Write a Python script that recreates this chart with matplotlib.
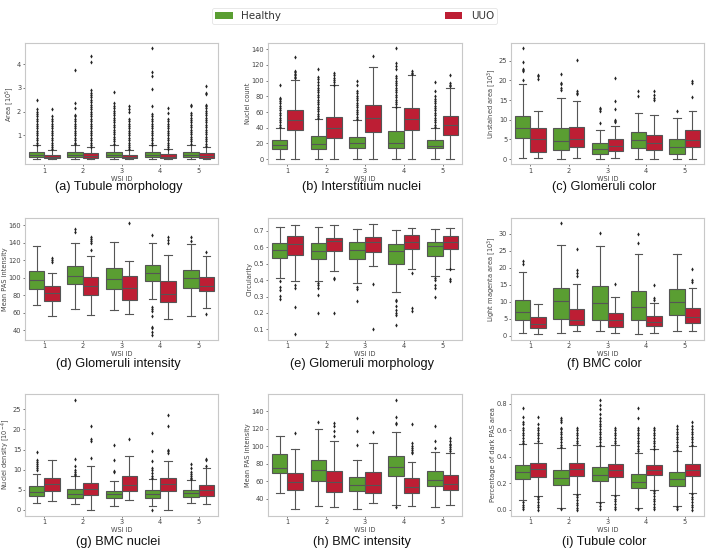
import matplotlib
matplotlib.use('Agg')
import matplotlib.pyplot as plt
from matplotlib.patches import Patch

wsi_ids = ['1', '2', '3', '4', '5']
groups = ['Healthy', 'UUO']
colors = ['#5a9e32', '#bd1e34']

# stats per WSI: (whislo, q1, median, q3, whishi)
# (a) Tubule morphology
a_healthy = [(0.0, 0.08, 0.17, 0.29, 0.58), (0.0, 0.08, 0.18, 0.30, 0.60), (0.0, 0.09, 0.19, 0.32, 0.62),
             (0.0, 0.08, 0.17, 0.29, 0.58), (0.0, 0.09, 0.18, 0.30, 0.62)]
a_healthy_fl = [
    [0.62, 0.7, 0.8, 0.9, 1.0, 1.1, 1.2, 1.3, 1.4, 1.5, 1.6, 1.7, 1.8, 1.9, 2.0, 2.1, 2.48],
    [0.63, 0.7, 0.8, 0.9, 1.0, 1.1, 1.2, 1.3, 1.4, 1.5, 1.6, 1.7, 1.8, 1.85, 2.15, 2.35, 3.77],
    [0.65, 0.75, 0.85, 0.95, 1.05, 1.15, 1.25, 1.35, 1.45, 1.55, 1.65, 1.75, 1.85, 1.95, 2.05, 2.15, 2.25, 2.35, 2.85],
    [0.6, 0.7, 0.8, 0.9, 1.0, 1.1, 1.2, 1.3, 1.4, 1.5, 1.6, 1.7, 1.8, 1.9, 2.25, 2.95, 3.5, 3.65, 4.68],
    [0.65, 0.75, 0.85, 0.95, 1.05, 1.15, 1.25, 1.35, 1.45, 1.55, 1.65, 1.75, 1.85, 1.95, 2.25, 2.3]]
a_uuo = [(0.0, 0.05, 0.11, 0.20, 0.41), (0.0, 0.06, 0.14, 0.25, 0.50), (0.0, 0.05, 0.10, 0.19, 0.41),
         (0.0, 0.05, 0.11, 0.22, 0.42), (0.0, 0.06, 0.14, 0.26, 0.52)]
a_uuo_fl = [
    [0.43, 0.5, 0.6, 0.7, 0.8, 0.9, 1.0, 1.1, 1.2, 1.3, 1.4, 1.5, 1.6, 1.7, 1.8, 2.1],
    [0.52, 0.6, 0.7, 0.8, 0.9, 1.0, 1.1, 1.2, 1.3, 1.4, 1.5, 1.6, 1.7, 1.8, 1.9, 2.0, 2.1, 2.2, 2.3, 2.4,
     2.5, 2.6, 2.7, 2.8, 2.9, 4.1, 4.35],
    [0.43, 0.5, 0.6, 0.7, 0.8, 0.9, 1.0, 1.1, 1.2, 1.3, 1.4, 1.5, 1.6, 1.7, 2.0, 2.1, 2.25],
    [0.44, 0.5, 0.6, 0.7, 0.8, 0.9, 1.0, 1.1, 1.2, 1.3, 1.4, 1.5, 1.6, 1.7, 1.95, 2.15],
    [0.55, 0.65, 0.75, 0.85, 0.95, 1.05, 1.15, 1.25, 1.35, 1.45, 1.55, 1.65, 1.75, 1.85, 1.95, 2.05, 2.15,
     2.25, 2.3, 2.75, 2.8, 3.1]]

# (b) Interstitium nuclei
b_healthy = [(0, 12.7, 18.2, 24.2, 40), (0, 13.2, 19, 29.3, 51), (0, 14, 20.8, 28.8, 50),
             (0, 14, 20, 35.6, 66), (0, 13.6, 17, 24, 40)]
b_healthy_fl = [
    [41, 44, 47, 50, 53, 56, 59, 62, 65, 68, 71, 74, 77, 78, 94],
    [52, 55, 58, 61, 64, 67, 70, 73, 76, 79, 82, 85, 88, 91, 94, 98, 102, 105, 115],
    [51, 54, 57, 60, 63, 66, 69, 72, 75, 78, 81, 84, 87, 95, 100],
    [67, 70, 73, 76, 79, 82, 85, 88, 91, 94, 97, 100, 103, 106, 115, 119, 122, 141],
    [41, 44, 47, 50, 53, 56, 59, 62, 65, 68, 71, 74, 77, 80, 87, 98]]
b_uuo = [(0, 36.9, 50.5, 62.8, 101), (0, 27.2, 40, 53.9, 94), (0, 35.2, 53, 68.7, 117.5),
         (0, 37.3, 51.3, 64.9, 107), (0, 31.4, 44, 55, 91)]
b_uuo_fl = [
    [103, 105, 107, 109, 111, 112, 130],
    [95, 98, 101, 104, 107, 110],
    [132],
    [108, 110, 112],
    [93, 95, 97, 107]]

# (c) Glomeruli color
c_healthy = [(0.2, 5.4, 7.8, 11.06, 19), (0.1, 2.3, 4.7, 7.8, 15.5), (0.0, 1.4, 2.5, 4.0, 7.5),
             (0.1, 2.9, 4.8, 7.0, 11.6), (0.1, 1.4, 3.0, 5.1, 10.4)]
c_healthy_fl = [[20, 22.3, 22.6, 23, 24.8, 28.2], [17.5, 18, 19, 19.3, 21.7], [9.3, 12.2, 12.7, 13.1],
                [16, 17.4], [12.2]]
c_uuo = [(0.2, 1.8, 5.1, 7.8, 12.3), (0.2, 3.0, 5.2, 8.1, 14.7), (0.3, 2.1, 3.3, 5.1, 8.5),
         (0.1, 2.3, 4.1, 6.2, 11.1), (0.1, 3.0, 4.8, 7.5, 12.3)]
c_uuo_fl = [[20.3, 21, 21.5], [16.6, 16.9, 17.3, 25.3], [9.4, 9.7, 10, 12.8, 14.8, 20.6],
            [15, 15.6, 16.2, 17.4], [15.8, 19.4, 19.8]]

# (d) Glomeruli intensity
d_healthy = [(68.5, 86.7, 97.3, 107.6, 136), (64, 92.4, 101.5, 113.7, 140), (63, 87.5, 98.5, 110.6, 140.5),
             (75.5, 95.8, 105.7, 114, 139.5), (56.5, 87.8, 99.6, 109, 138)]
d_healthy_fl = [[], [152, 156], [], [35, 38, 42, 44, 56, 62, 64, 66, 149], [142, 146]]
d_uuo = [(56, 73.8, 82, 90.5, 105), (57, 80.6, 90.5, 100.7, 125), (58.5, 74.9, 88.2, 101.9, 118.5),
         (52.5, 71.9, 81.4, 96.2, 125.5), (65, 84.4, 90, 100.7, 124.5)]
d_uuo_fl = [[118, 120, 122], [132, 140, 142, 144, 146], [162], [140, 143, 146], [59, 129]]

# (e) Glomeruli morphology
e_healthy = [(0.415, 0.534, 0.583, 0.623, 0.722), (0.397, 0.528, 0.577, 0.623, 0.72),
             (0.385, 0.528, 0.58, 0.631, 0.71), (0.326, 0.496, 0.575, 0.621, 0.702),
             (0.423, 0.546, 0.605, 0.631, 0.71)]
e_healthy_fl = [[0.397, 0.36, 0.338, 0.306, 0.286], [0.38, 0.37, 0.35, 0.31, 0.2], [0.355, 0.345, 0.275],
                [0.28, 0.27, 0.24, 0.22, 0.2, 0.19, 0.13], [0.415, 0.4, 0.37, 0.35, 0.3]]
e_uuo = [(0.397, 0.553, 0.619, 0.67, 0.736), (0.458, 0.577, 0.64, 0.656, 0.737),
         (0.484, 0.573, 0.633, 0.662, 0.742), (0.47, 0.587, 0.631, 0.674, 0.716),
         (0.47, 0.589, 0.631, 0.67, 0.715)]
e_uuo_fl = [[0.37, 0.35, 0.237, 0.075], [0.415, 0.405, 0.2], [0.375, 0.1], [0.44, 0.23, 0.21],
            [0.465, 0.405, 0.395]]

# (f) BMC color
f_healthy = [(0.7, 4.7, 7.06, 10.6, 18.8), (0.9, 4.9, 10.3, 14.0, 26.8), (1.4, 4.6, 9.8, 14.7, 26.6),
             (0.6, 4.7, 8.5, 13.1, 24.1), (1.3, 6.2, 10.0, 13.9, 24.1)]
f_healthy_fl = [[21.3, 21.9], [33.2], [30.4], [27.3, 30.1], []]
f_uuo = [(0.5, 2.45, 3.5, 5.4, 9.4), (1.4, 3.1, 4.8, 8.0, 15.3), (0.7, 2.7, 4.7, 6.7, 11.3),
         (0.9, 3.0, 4.2, 5.8, 9.7), (1.4, 3.7, 5.6, 8.2, 14.2)]
f_uuo_fl = [[], [17.5, 18.6, 19.3, 25.5], [15.3], [10.6, 11, 14.9], [16, 16.3, 19.6]]

# (g) BMC nuclei
g_healthy = [(1.8, 3.38, 4.54, 5.86, 8.9), (1.4, 2.9, 4.04, 5.2, 8.4), (1.0, 3.0, 3.9, 4.7, 7.2),
             (1.0, 2.9, 3.9, 4.95, 7.7), (1.6, 3.3, 4.1, 4.95, 7.4)]
g_healthy_fl = [[10, 10.5, 11, 11.5, 12, 12.3, 14.5], [8.6, 9, 9.5, 10, 11, 12.7, 27.4], [9.3, 9.6, 12.4, 16],
                [0, 7.9, 8.5, 9.2, 10, 10.5, 12.2, 14.6, 19], [7.6, 8, 8.5, 9, 9.5, 10.5, 11.3]]
g_uuo = [(2.3, 4.7, 6.44, 7.84, 12.4), (0.0, 3.7, 5.28, 6.6, 10.9), (2.5, 4.6, 6.3, 8.5, 13.4),
         (0.0, 4.6, 6.4, 7.9, 12.2), (1.5, 3.5, 5.0, 6.3, 10.4)]
g_uuo_fl = [[], [12.8, 17.2, 17.5, 20.8], [17.5], [14.2, 14.6, 15, 20.8, 23.6], [11, 12.3, 12.7]]

# (h) BMC intensity
h_healthy = [(46.8, 69.9, 75.6, 91.4, 112.3), (32.4, 60.8, 73.3, 84.7, 119.5), (28.3, 49, 56.3, 65, 84),
             (32.8, 65.8, 76.4, 88.5, 116.5), (30.5, 55.1, 62, 72.2, 93.8)]
h_healthy_fl = [[], [128], [102, 117, 132], [31, 125, 127, 133, 153], [98, 106, 123]]
h_uuo = [(27.9, 49.8, 59.7, 69.5, 97.2), (30.9, 48, 59.7, 71.8, 106.3), (34.7, 46.4, 56, 70.3, 103.6),
         (32, 46.8, 53.6, 63.5, 82), (33.2, 50.2, 57, 67.3, 92.6)]
h_uuo_fl = [[115], [112, 117, 123, 127], [116], [92, 94, 96, 98, 100, 104, 126],
            [95, 97, 99, 101, 103, 106, 110]]

# (i) Tubule color
i_healthy = [(0.075, 0.2325, 0.285, 0.3375, 0.495), (0.015, 0.1875, 0.24, 0.298, 0.465),
             (0.06, 0.215, 0.265, 0.32, 0.48), (0.015, 0.1675, 0.2125, 0.27, 0.43),
             (0.03, 0.18, 0.2325, 0.285, 0.44)]
i_healthy_fl = [
    [0.06, 0.04, 0.02, 0.005, 0.5, 0.52, 0.54, 0.56, 0.58, 0.6, 0.62, 0.65, 0.66, 0.7, 0.77],
    [0.01, 0.47, 0.49, 0.51, 0.53, 0.55, 0.57, 0.59, 0.61, 0.62, 0.66, 0.68, 0.69],
    [0.05, 0.03, 0.01, 0.49, 0.51, 0.53, 0.55, 0.57, 0.59, 0.61, 0.63, 0.65, 0.67, 0.69, 0.72, 0.76, 0.79, 0.83],
    [0.01, 0.44, 0.46, 0.48, 0.5, 0.52, 0.54, 0.56, 0.58, 0.6, 0.62, 0.69, 0.77],
    [0.02, 0.01, 0.45, 0.47, 0.49, 0.51, 0.53, 0.55, 0.57, 0.59, 0.61, 0.63]]
i_uuo = [(0.105, 0.25, 0.307, 0.35, 0.5), (0.12, 0.255, 0.307, 0.35, 0.49), (0.11, 0.25, 0.303, 0.345, 0.49),
         (0.15, 0.265, 0.303, 0.3375, 0.455), (0.125, 0.255, 0.303, 0.345, 0.48)]
i_uuo_fl = [
    [0.1, 0.08, 0.06, 0.04, 0.02, 0.0, 0.52, 0.54, 0.56, 0.58, 0.6, 0.62, 0.65, 0.7],
    [0.115, 0.095, 0.075, 0.055, 0.035, 0.015, 0.0, 0.5, 0.52, 0.54, 0.56, 0.58, 0.6, 0.62],
    [0.105, 0.085, 0.065, 0.045, 0.025, 0.005, 0.5, 0.52, 0.54, 0.56, 0.58, 0.6, 0.62],
    [0.145, 0.125, 0.105, 0.085, 0.065, 0.045, 0.025, 0.005, 0.46, 0.48, 0.5, 0.52, 0.54, 0.56, 0.58, 0.6, 0.62],
    [0.12, 0.1, 0.08, 0.06, 0.04, 0.02, 0.0, 0.49, 0.51, 0.53, 0.55, 0.57, 0.59, 0.61, 0.63, 0.66]]

panels = [
    ('(a) Tubule morphology', r'Area [$10^5$]', a_healthy, a_healthy_fl, a_uuo, a_uuo_fl,
     [1, 2, 3, 4], (-0.22, 4.89), '{:g}'),
    ('(b) Interstitium nuclei', 'Nuclei count', b_healthy, b_healthy_fl, b_uuo, b_uuo_fl,
     [0, 20, 40, 60, 80, 100, 120, 140], (-6.8, 148), '{:g}'),
    ('(c) Glomeruli color', r'Unstained area [$10^3$]', c_healthy, c_healthy_fl, c_uuo, c_uuo_fl,
     [0, 5, 10, 15, 20, 25], (-1.35, 29.5), '{:g}'),
    ('(d) Glomeruli intensity', 'Mean PAS intensity', d_healthy, d_healthy_fl, d_uuo, d_uuo_fl,
     [40, 60, 80, 100, 120, 140, 160], (29.4, 168), '{:g}'),
    ('(e) Glomeruli morphology', 'Circularity', e_healthy, e_healthy_fl, e_uuo, e_uuo_fl,
     [0.1, 0.2, 0.3, 0.4, 0.5, 0.6, 0.7], (0.039, 0.777), '{:.1f}'),
    ('(f) BMC color', r'Light magenta area [$10^3$]', f_healthy, f_healthy_fl, f_uuo, f_uuo_fl,
     [0, 5, 10, 15, 20, 25, 30], (-1.08, 34.7), '{:g}'),
    ('(g) BMC nuclei', r'Nuclei density [$10^{-4}$]', g_healthy, g_healthy_fl, g_uuo, g_uuo_fl,
     [0, 5, 10, 15, 20, 25], (-1.4, 28.8), '{:g}'),
    ('(h) BMC intensity', 'Mean PAS intensity', h_healthy, h_healthy_fl, h_uuo, h_uuo_fl,
     [40, 60, 80, 100, 120, 140], (21, 159.7), '{:g}'),
    ('(i) Tubule color', 'Percentage of dark PAS area', i_healthy, i_healthy_fl, i_uuo, i_uuo_fl,
     [0.0, 0.2, 0.4, 0.6, 0.8], (-0.0425, 0.8725), '{:.1f}'),
]

W, H = 708, 552
fig = plt.figure(figsize=(W / 100, H / 100), dpi=100)
col_left = [25, 268, 511]
col_width = [193, 194, 193]
row_top = [43, 218, 394]
row_h = 121.5
caption_y = [187, 364, 542]

edge = '#555555'
lw = 0.8
small = 4.8

for k, (title, ylab, hs, hf, us, uf, yt, ylim, fmt) in enumerate(panels):
    r, c = divmod(k, 3)
    ax = fig.add_axes([col_left[c] / W, 1 - (row_top[r] + row_h) / H, col_width[c] / W, row_h / H])
    for g, (stats, fl) in enumerate([(hs, hf), (us, uf)]):
        bstats = [dict(whislo=s[0], q1=s[1], med=s[2], q3=s[3], whishi=s[4], fliers=f)
                  for s, f in zip(stats, fl)]
        pos = [i + (-0.2 if g == 0 else 0.2) for i in range(len(wsi_ids))]
        ax.bxp(bstats, positions=pos, widths=0.4, patch_artist=True, showfliers=True,
               boxprops=dict(facecolor=colors[g], edgecolor=edge, linewidth=lw),
               medianprops=dict(color=edge, linewidth=lw),
               whiskerprops=dict(color=edge, linewidth=lw),
               capprops=dict(color=edge, linewidth=lw),
               flierprops=dict(marker='d', markersize=2.1, markerfacecolor='#222222',
                               markeredgecolor='none', linestyle='none'),
               manage_ticks=False)
    ax.set_xlim(-0.5, len(wsi_ids) - 0.5)
    ax.set_xticks(range(len(wsi_ids)))
    ax.set_xticklabels(wsi_ids)
    ax.set_ylim(*ylim)
    ax.set_yticks(yt)
    ax.set_yticklabels([fmt.format(v) for v in yt])
    ax.tick_params(labelsize=small, colors='#444444', length=1.5, width=0.5, pad=1.2)
    for sp in ax.spines.values():
        sp.set_color('#c8c8c8')
        sp.set_linewidth(0.8)
    ax.set_xlabel('WSI ID', fontsize=small, color='#444444', labelpad=1)
    ax.set_ylabel(ylab, fontsize=small, color='#444444', labelpad=0.8)
    cx = (col_left[c] + col_width[c] / 2 - 3) / W
    fig.text(cx, 1 - caption_y[r] / H, title, ha='center', va='center', fontsize=9.2,
             family='Liberation Sans', color='#111111')

handles = [Patch(facecolor=colors[0], edgecolor='none', label=groups[0]),
           Patch(facecolor=colors[1], edgecolor='none', label=groups[1])]
leg = fig.legend(handles=handles, loc='lower left', ncol=2, mode='expand',
                 bbox_to_anchor=(212 / W, 1 - 24 / H, 285 / W, 22 / H), fontsize=7.4,
                 frameon=True, handlelength=1.7, handleheight=0.6, borderaxespad=0, borderpad=0.3,
                 fancybox=True)
leg.get_frame().set_edgecolor('#dddddd')
leg.get_frame().set_linewidth(0.6)
for t in leg.get_texts():
    t.set_color('#333333')

fig.savefig('out.png', dpi=100)
